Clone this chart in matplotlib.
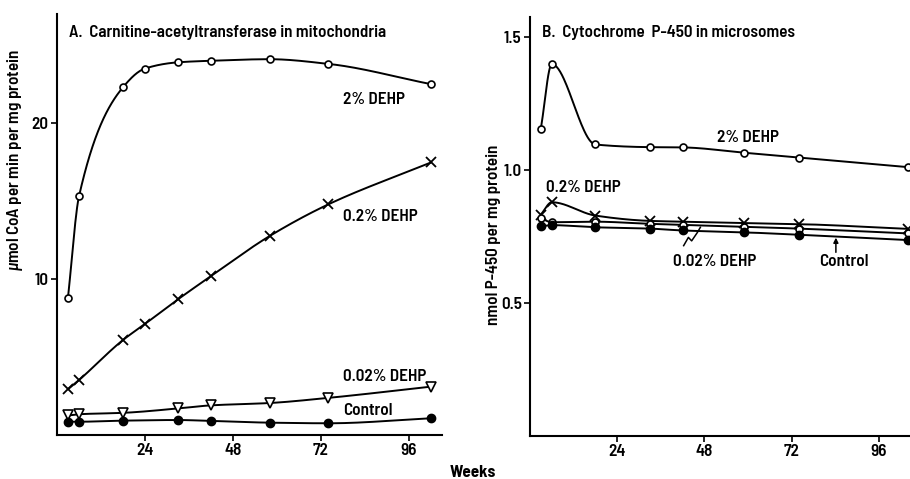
import numpy as np
import matplotlib
matplotlib.use("Agg")
import matplotlib.pyplot as plt

plt.rcParams['font.family'] = ['Barlow Semi Condensed', 'DejaVu Sans']
plt.rcParams['mathtext.fontset'] = 'custom'
plt.rcParams['mathtext.rm'] = 'Barlow Semi Condensed'
plt.rcParams['mathtext.it'] = 'Barlow Semi Condensed:italic:semibold'

# ---- Panel A: Carnitine-acetyltransferase (umol CoA / min / mg protein)
weeks_a = [3, 6, 18, 24, 33, 42, 58, 74, 102]
a_dehp2 = [8.8, 15.3, 22.3, 23.5, 23.9, 24.0, 24.1, 23.8, 22.5]
a_dehp02 = [2.93, 3.52, 6.09, 7.12, 8.7, 10.19, 12.76, 14.79, 17.48]
weeks_a3 = [3, 6, 18, 33, 42, 58, 74, 102]
a_dehp002 = [1.25, 1.33, 1.42, 1.70, 1.90, 2.05, 2.38, 3.1]
a_control = [0.85, 0.85, 0.92, 0.96, 0.90, 0.79, 0.75, 1.07]

# ---- Panel B: Cytochrome P-450 (nmol / mg protein)
weeks_b = [3, 6, 18, 33, 42, 59, 74, 104]
b_dehp2 = [1.155, 1.397, 1.095, 1.085, 1.084, 1.064, 1.046, 1.01]
b_dehp02 = [0.832, 0.878, 0.828, 0.808, 0.805, 0.800, 0.796, 0.778]
b_dehp002 = [0.818, 0.803, 0.805, 0.797, 0.793, 0.786, 0.779, 0.761]
b_control = [0.787, 0.792, 0.784, 0.779, 0.772, 0.765, 0.756, 0.736]

xticks = [24, 48, 72, 96]


def pchip(x, y, xs):
    x = np.asarray(x, float)
    y = np.asarray(y, float)
    h = np.diff(x)
    d = np.diff(y) / h
    n = len(x)
    m = np.zeros(n)
    for k in range(1, n - 1):
        if d[k - 1] * d[k] <= 0:
            m[k] = 0
        else:
            w1 = 2 * h[k] + h[k - 1]
            w2 = h[k] + 2 * h[k - 1]
            m[k] = (w1 + w2) / (w1 / d[k - 1] + w2 / d[k])
    m[0] = d[0]
    m[-1] = d[-1]
    idx = np.clip(np.searchsorted(x, xs) - 1, 0, n - 2)
    t = (xs - x[idx]) / h[idx]
    h00 = 2 * t**3 - 3 * t**2 + 1
    h10 = t**3 - 2 * t**2 + t
    h01 = -2 * t**3 + 3 * t**2
    h11 = t**3 - t**2
    return (h00 * y[idx] + h10 * h[idx] * m[idx] + h01 * y[idx + 1]
            + h11 * h[idx] * m[idx + 1])


def series(ax, x, y, **mk):
    xs = np.linspace(x[0], x[-1], 400)
    ax.plot(xs, pchip(x, y, xs), color='black', lw=1.4, zorder=2,
            solid_capstyle='round')
    ax.plot(x, y, linestyle='none', color='black', zorder=3, clip_on=False, **mk)


fig = plt.figure(figsize=(9.10, 4.79), dpi=100)

open_c = dict(marker='o', ms=5, mfc='white', mec='black', mew=1.2)
cross = dict(marker='x', ms=6.5, mew=1.3, mec='black')
tri = dict(marker='v', ms=6.5, mfc='white', mec='black', mew=1.2)
fill_c = dict(marker='o', ms=6, mfc='black', mec='black')

fs = 12.3
fw = 'semibold'

# ---------------- Panel A
axA = fig.add_axes([0.0626, 0.0919, 0.4231, 0.8789])
series(axA, weeks_a, a_dehp2, **open_c)
series(axA, weeks_a, a_dehp02, **cross)
series(axA, weeks_a3, a_dehp002, **tri)
series(axA, weeks_a3, a_control, **fill_c)
axA.set_xlim(0, 105)
axA.set_ylim(0, 27)
axA.set_yticks([10, 20])
axA.set_xticks(xticks)

axA.text(3.3, 25.8, 'A.  Carnitine-acetyltransferase in mitochondria',
         fontsize=fs, ha='left', va='center', fontweight=fw)
axA.text(78, 21.5, '2% DEHP', fontsize=fs, ha='left', va='center', fontweight=fw)
axA.text(78, 14.0, '0.2% DEHP', fontsize=fs, ha='left', va='center', fontweight=fw)
axA.text(78, 3.72, '0.02% DEHP', fontsize=fs, ha='left', va='center', fontweight=fw)
axA.text(78, 1.54, 'Control', fontsize=fs, ha='left', va='center', fontweight=fw)

# ---------------- Panel B
axB = fig.add_axes([0.5824, 0.0898, 0.4192, 0.8753])
series(axB, weeks_b, b_dehp2, **open_c)
series(axB, weeks_b, b_dehp02, **cross)
series(axB, weeks_b, b_dehp002, **dict(open_c, ms=5))
series(axB, weeks_b, b_control, **fill_c)
axB.set_xlim(0, 105)
axB.set_ylim(0, 1.575)
axB.set_yticks([0.5, 1.0, 1.5])
axB.set_yticklabels(['0.5', '1.0', '1.5'])
axB.set_xticks(xticks)

axB.text(3.4, 1.514, 'B.  Cytochrome  P-450 in microsomes',
         fontsize=fs, ha='left', va='center', fontweight=fw)
axB.text(51.6, 1.122, '2% DEHP', fontsize=fs, ha='left', va='center', fontweight=fw)
axB.text(4.3, 0.933, '0.2% DEHP', fontsize=fs, ha='left', va='center', fontweight=fw)
axB.text(39.5, 0.657, '0.02% DEHP', fontsize=fs, ha='left', va='center', fontweight=fw)
axB.text(79.5, 0.657, 'Control', fontsize=fs, ha='left', va='center', fontweight=fw)
axB.plot([42.3, 43.6, 44.5, 46.1, 46.9], [0.715, 0.746, 0.733, 0.765, 0.784],
         color='black', lw=1.1)
axB.annotate('', xy=(84.2, 0.745), xytext=(84.2, 0.69),
             arrowprops=dict(arrowstyle='-|>', color='black', lw=1.1,
                             mutation_scale=7, shrinkA=0, shrinkB=0))

for ax in (axA, axB):
    for s in ('top', 'right'):
        ax.spines[s].set_visible(False)
    for s in ('left', 'bottom'):
        ax.spines[s].set_linewidth(1.5)
    ax.tick_params(direction='out', length=4, width=1.2, labelsize=fs, pad=2)
    for lab in ax.get_xticklabels() + ax.get_yticklabels():
        lab.set_fontweight(fw)

fig.text(0.017, 0.666, r'$\mathit{\mu}$mol CoA per min per mg protein', rotation=90,
         ha='center', va='center', fontsize=fs, fontweight=fw)
fig.text(0.542, 0.509, 'nmol P-450 per mg protein', rotation=90,
         ha='center', va='center', fontsize=fs, fontweight=fw)
fig.text(0.519, 0.014, 'Weeks', ha='center', va='center', fontsize=fs,
         fontweight='bold')

fig.savefig('out.png', dpi=100)
